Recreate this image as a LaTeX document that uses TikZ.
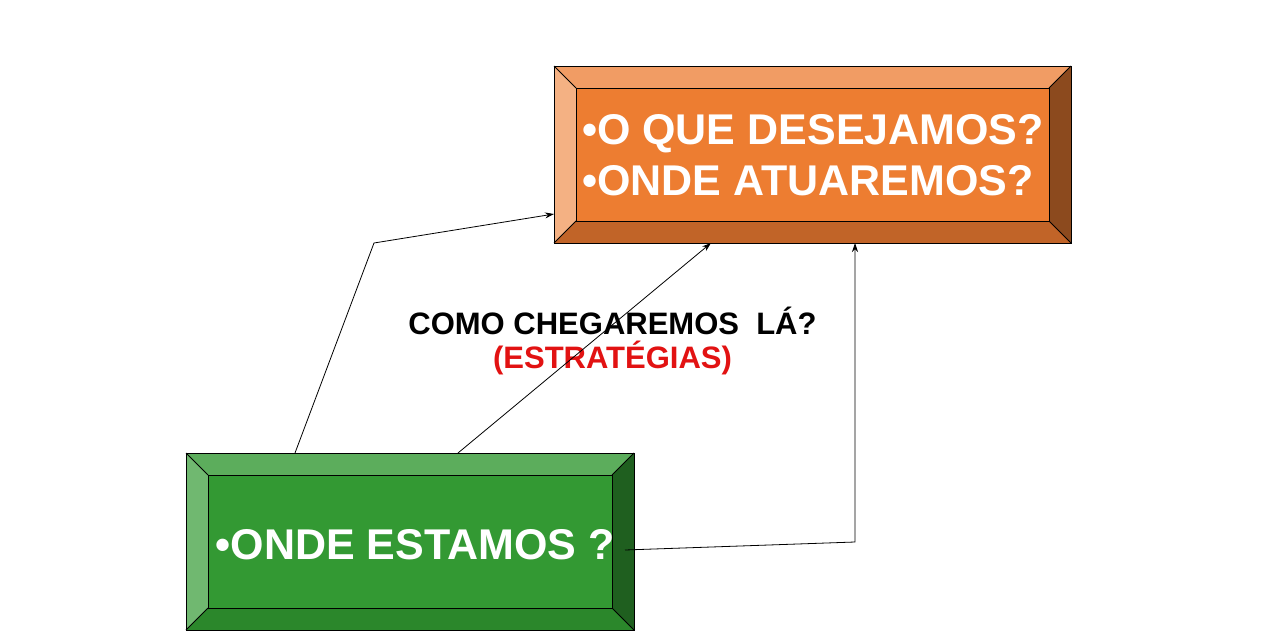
\documentclass[tikz,border=0pt]{standalone}
\usepackage{fontspec}
\setmainfont{Liberation Sans}
\usetikzlibrary{calc,arrows.meta}
\definecolor{oface}{RGB}{237,125,49}
\definecolor{otop}{RGB}{241,156,100}
\definecolor{oleft}{RGB}{244,177,131}
\definecolor{obot}{RGB}{193,100,40}
\definecolor{oright}{RGB}{140,74,30}
\definecolor{gface}{RGB}{51,153,51}
\definecolor{gtop}{RGB}{92,173,92}
\definecolor{gleft}{RGB}{112,184,112}
\definecolor{gbot}{RGB}{43,135,43}
\definecolor{gright}{RGB}{31,95,31}
\definecolor{redtxt}{RGB}{226,18,18}
\newcommand\mybevel[7]{%
  \fill[#2] (#1.north west) -- (#1.north east) -- ($(#1.north east)+(-#7,#7)$) -- ($(#1.north west)+(#7,#7)$) -- cycle;
  \fill[#3] (#1.north west) -- ($(#1.north west)+(#7,#7)$) -- ($(#1.south west)+(#7,-#7)$) -- (#1.south west) -- cycle;
  \fill[#4] (#1.south west) -- ($(#1.south west)+(#7,-#7)$) -- ($(#1.south east)+(-#7,-#7)$) -- (#1.south east) -- cycle;
  \fill[#5] (#1.north east) -- (#1.south east) -- ($(#1.south east)+(-#7,-#7)$) -- ($(#1.north east)+(-#7,#7)$) -- cycle;
  \fill[#6] ($(#1.north west)+(#7,#7)$) rectangle ($(#1.south east)+(-#7,-#7)$);
  \draw[edge] (#1.north west) rectangle (#1.south east);
  \draw[edge] ($(#1.north west)+(#7,#7)$) rectangle ($(#1.south east)+(-#7,-#7)$);
  \draw[edge] (#1.north west) -- ($(#1.north west)+(#7,#7)$);
  \draw[edge] (#1.north east) -- ($(#1.north east)+(-#7,#7)$);
  \draw[edge] (#1.south west) -- ($(#1.south west)+(#7,-#7)$);
  \draw[edge] (#1.south east) -- ($(#1.south east)+(-#7,-#7)$);
}
\begin{document}
\begin{tikzpicture}[x=1pt,y=-1pt,
  boxshape/.style={rectangle,inner sep=0pt,outer sep=0pt,minimum height=177pt},
  edge/.style={draw=black,line width=0.8pt,line join=miter},
  boxtext/.style={text=white,font=\bfseries\fontsize{43}{51}\selectfont,align=left,inner sep=0pt},
  midtext/.style={font=\bfseries\fontsize{31}{34}\selectfont,align=center,inner sep=0pt},
  conn/.style={draw=black,line width=0.8pt,-{Stealth[length=9pt,width=6pt]}}]
\fill[white] (0,0) rectangle (1264,632);
\useasboundingbox (0,0) rectangle (1264,632);
\node[boxshape,minimum width=517pt] (O) at (812.5,154.5) {};
\node[boxshape,minimum width=448pt] (G) at (410,541.5) {};
\mybevel{O}{otop}{oleft}{obot}{oright}{oface}{22}
\mybevel{G}{gtop}{gleft}{gbot}{gright}{gface}{22}
\node[boxtext] (Otxt) at (813,155.5) {•O QUE DESEJAMOS?\\•ONDE ATUAREMOS?};
\node[boxtext] (Gtxt) at (415,545) {•ONDE ESTAMOS ?};
\node[midtext] (Mid) at (612.5,341) {COMO CHEGAREMOS\ \ LÁ?\\\textcolor{redtxt}{(ESTRATÉGIAS)}};
\coordinate (b1) at (374,243);
\coordinate (b3) at (855,542);
\draw[conn] ([xshift=109pt]G.north west) -- (b1) -- ([yshift=-59.5pt]O.west);
\draw[conn] ([xshift=272pt]G.north west) -- ([xshift=157pt]O.south west);
\draw[conn] ([xshift=-9pt,yshift=-8.5pt]G.east) -- (b3) -- ([xshift=301pt]O.south west);
\end{tikzpicture}
\end{document}
